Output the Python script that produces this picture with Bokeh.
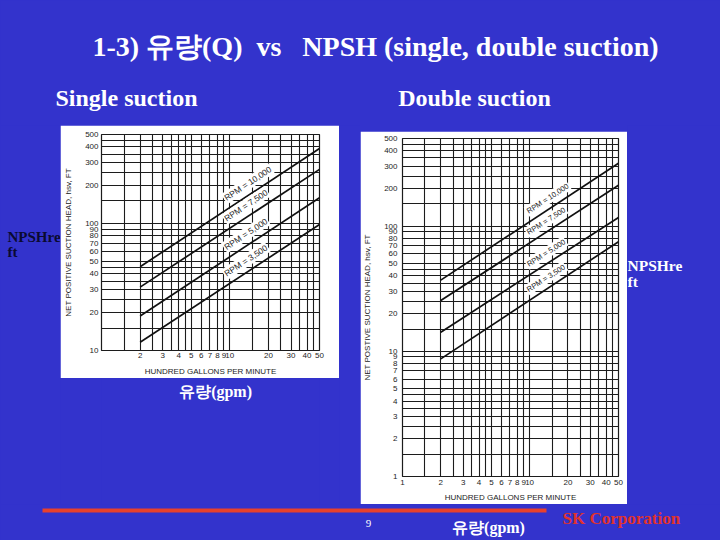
import math
from bokeh.plotting import figure
from bokeh.layouts import column, row
from bokeh.models import Range1d, FixedTicker, NumeralTickFormatter
from bokeh.core.properties import value
from bokeh.embed import file_html
from bokeh.resources import INLINE

BG = "#3333CC"
SERIF = "Liberation Serif"
CHART_FONT = "Liberation Sans"
INK = "#1c1c1c"
LAYOUT_STYLE = {"background-color": BG}

# ---------------- data ----------------
flow_q = [2, 50]  # hundred gallons per minute
rpm_labels = ["RPM = 10,000", "RPM = 7,500", "RPM = 5,000", "RPM = 3,500"]

single_rpm10000 = [45.6, 388]
single_rpm7500 = [31.5, 266]
single_rpm5000 = [18.7, 159]
single_rpm3500 = [11.6, 98]

double_rpm10000 = [37, 317]
double_rpm7500 = [25.4, 212]
double_rpm5000 = [14.2, 117]
double_rpm3500 = [8.7, 75]

x_major_single = [2, 3, 4, 5, 6, 7, 8, 9, 10, 20, 30, 40, 50]
x_major_double = [1, 2, 3, 4, 5, 6, 7, 8, 9, 10, 20, 30, 40, 50]
x_minor = [1, 1.5, 2.5, 3.5, 4.5, 15, 25, 35, 45]
y_major_single = [10, 20, 30, 40, 50, 60, 70, 80, 90, 100, 200, 300, 400, 500]
y_minor_single = [15, 25, 35, 45, 150, 250, 350, 450]
y_major_double = [1, 2, 3, 4, 5, 6, 7, 8, 9, 10, 20, 30, 40, 50, 60, 70, 80, 90,
                  100, 200, 300, 400, 500]
y_minor_double = [1.5, 2.5, 3.5, 4.5, 15, 25, 35, 45, 150, 250, 350, 450]


def blank(w, h, fill=BG):
    p = figure(width=w, height=h, x_range=Range1d(0, w), y_range=Range1d(h, 0),
               x_axis_location=None, y_axis_location=None, toolbar_location=None,
               output_backend="svg", min_border=0, styles=LAYOUT_STYLE)
    p.background_fill_color = fill
    p.border_fill_color = fill
    p.outline_line_color = None
    p.grid.visible = False
    return p


def put(p, x, y, txt, size, color="white", style="bold", align="center",
        baseline="middle", font=SERIF):
    p.text(x=[x], y=[y], text=[txt], text_font=value(font), text_font_style=style,
           text_font_size=size, text_color=color, text_align=align,
           text_baseline=baseline)


def chart(w, h, yr, xmaj, ymaj, ymin, series, borders, ylabel, label_q,
          label_size, tick_size, ylab_standoff, xlab_standoff, yt_standoff, xt_standoff):
    bl, br, bt, bb = borders
    p = figure(width=w, height=h, x_axis_type="log", y_axis_type="log",
               x_range=Range1d(1, 50), y_range=Range1d(*yr),
               toolbar_location=None, output_backend="svg",
               min_border_left=bl, min_border_right=br,
               min_border_top=bt, min_border_bottom=bb)
    p.background_fill_color = "white"
    p.border_fill_color = "white"
    p.outline_line_color = INK
    p.outline_line_width = 1.2
    p.xaxis.ticker = FixedTicker(ticks=xmaj, minor_ticks=x_minor)
    p.yaxis.ticker = FixedTicker(ticks=ymaj, minor_ticks=ymin)
    for ax in (p.xaxis, p.yaxis):
        ax.formatter = NumeralTickFormatter(format="0")
        ax.axis_line_color = None
        ax.major_tick_line_color = None
        ax.minor_tick_line_color = None
        ax.major_tick_out = 0
        ax.major_tick_in = 0
        ax.minor_tick_out = 0
        ax.minor_tick_in = 0
        ax.major_label_text_font = CHART_FONT
        ax.major_label_text_font_size = tick_size
        ax.major_label_text_color = INK
        ax.axis_label_text_font = CHART_FONT
        ax.axis_label_text_font_size = tick_size
        ax.axis_label_text_font_style = "normal"
        ax.axis_label_text_color = INK
    p.xaxis.axis_label = "HUNDRED GALLONS PER MINUTE"
    p.yaxis.axis_label = ylabel
    p.yaxis.major_label_standoff = yt_standoff
    p.xaxis.major_label_standoff = xt_standoff
    p.yaxis.axis_label_standoff = ylab_standoff
    p.xaxis.axis_label_standoff = xlab_standoff
    for g in (p.xgrid, p.ygrid):
        g.grid_line_color = INK
        g.grid_line_width = 1.1
        g.minor_grid_line_color = INK
        g.minor_grid_line_width = 1.1

    fw = w - bl - br
    fh = h - bt - bb
    px_x = fw / math.log10(50 / 1)
    px_y = fh / math.log10(yr[1] / yr[0])
    lift = 10 ** (5 / px_y)  # raise labels ~5px above their line
    for vals, lab in zip(series, rpm_labels):
        p.line(flow_q, vals, line_color="#111111", line_width=1.7)
        slope = math.log10(vals[1] / vals[0]) / math.log10(flow_q[1] / flow_q[0])
        ly = vals[0] * (label_q / flow_q[0]) ** slope * lift
        ang = math.atan(slope * px_y / px_x)
        p.text(x=[label_q], y=[ly], text=[lab], angle=ang,
               text_font=value(CHART_FONT), text_font_size=label_size,
               text_color=INK, text_align="left", text_baseline="bottom",
               background_fill_color="white", padding=1)
    return p


# ---------------- header ----------------
head = blank(720, 125)
put(head, 375, 46, "1-3) 유량(Q)\u00a0\u00a0vs\u00a0\u00a0\u00a0NPSH (single, double suction)", "28px")
put(head, 126, 97, "Single suction", "24px")
put(head, 474, 97, "Double suction", "24px")

# ---------------- middle ----------------
left_lab = blank(60, 379)
put(left_lab, 7, 111, "NPSHre", "15px", color="#0a0a30", align="left")
put(left_lab, 7, 126, "ft", "15px", color="#0a0a30", align="left")

single = chart(279, 253, (10, 500), x_major_single, y_major_single, y_minor_single,
               [single_rpm10000, single_rpm7500, single_rpm5000, single_rpm3500],
               (41, 20, 9, 27), "NET POSITIVE SUCTION HEAD, hsv, FT",
               9.6, "8.5px", "8px", 9, 6, 3, 2)
under_left = blank(279, 126)
put(under_left, 146, 13, "유량(gpm)", "16px")
left_col = column(single, under_left, styles=LAYOUT_STYLE)

gap = blank(21, 379)

right_top = blank(267, 6)
double = chart(267, 373, (1, 500), x_major_double, y_major_double, y_minor_double,
               [double_rpm10000, double_rpm7500, double_rpm5000, double_rpm3500],
               (37, 9, 7, 28), "NET POSTIVE SUCTION HEAD, hsv, FT",
               10.0, "7.5px", "8px", 9, 5, 5, 3)
right_col = column(right_top, double, styles=LAYOUT_STYLE)

right_lab = blank(93, 379)
put(right_lab, 0, 140, "NPSHre", "15.5px", align="left")
put(right_lab, 0, 156, "ft", "15.5px", align="left")

middle = row(left_lab, left_col, gap, right_col, right_lab, styles=LAYOUT_STYLE)

# ---------------- footer ----------------
foot = blank(720, 36)
foot.line(x=[42, 546], y=[6, 6], line_color="#E8412C", line_width=4)
put(foot, 562, 14, "SK Corporation", "17px", color="#E0322D", align="left",
    baseline="alphabetic")
put(foot, 368, 19, "9", "11px", style="normal")
put(foot, 488, 23, "유량(gpm)", "16px")

page = column(head, middle, foot, styles=LAYOUT_STYLE)

open("out.html", "w").write(file_html(page, INLINE))
